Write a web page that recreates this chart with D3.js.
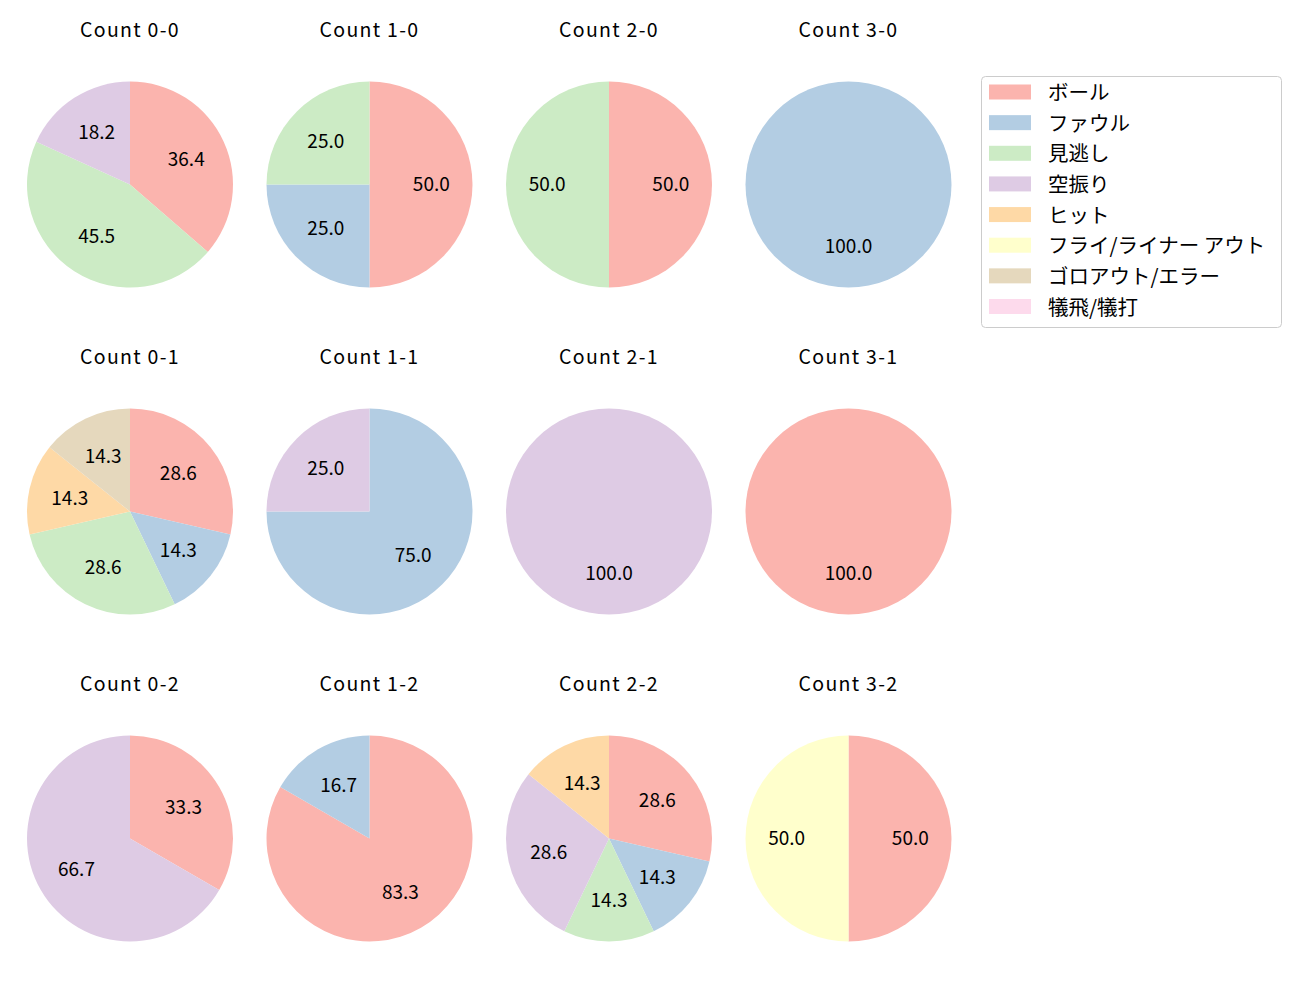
<!DOCTYPE html>
<html>
<head>
<meta charset="utf-8">
<script src="https://cdn.jsdelivr.net/npm/d3@7"></script>
<style>
  body { margin: 0; background: #fff; }
  svg { display: block; font-family: "Noto Sans CJK JP", "Noto Sans", sans-serif; }
</style>
</head>
<body>
<svg id="chart" width="1300" height="1000"></svg>
<script>
// Categories (legend order) and colours
const categories = ["ボール", "ファウル", "見逃し", "空振り", "ヒット", "フライ/ライナー アウト", "ゴロアウト/エラー", "犠飛/犠打"];
const colors = ["#fbb4ae", "#b3cde3", "#ccebc5", "#decbe4", "#fed9a6", "#ffffcc", "#e5d8bd", "#fddaec"];

// Panel titles (row-major: strikes rows, balls columns)
const counts = ["0-0", "1-0", "2-0", "3-0", "0-1", "1-1", "2-1", "3-1", "0-2", "1-2", "2-2", "3-2"];

// Values per count, in category order
const v00 = [4, 0, 5, 2, 0, 0, 0, 0];
const v10 = [2, 1, 1, 0, 0, 0, 0, 0];
const v20 = [1, 0, 1, 0, 0, 0, 0, 0];
const v30 = [0, 1, 0, 0, 0, 0, 0, 0];
const v01 = [2, 1, 2, 0, 1, 0, 1, 0];
const v11 = [0, 3, 0, 1, 0, 0, 0, 0];
const v21 = [0, 0, 0, 1, 0, 0, 0, 0];
const v31 = [1, 0, 0, 0, 0, 0, 0, 0];
const v02 = [1, 0, 0, 2, 0, 0, 0, 0];
const v12 = [5, 1, 0, 0, 0, 0, 0, 0];
const v22 = [2, 1, 1, 2, 1, 0, 0, 0];
const v32 = [1, 0, 0, 0, 0, 1, 0, 0];
const values = [v00, v10, v20, v30, v01, v11, v21, v31, v02, v12, v22, v32];

const svg = d3.select("#chart");

const colX = d3.scalePoint().domain([0, 1, 2, 3]).range([130, 848.5]);
const rowY = d3.scalePoint().domain([0, 1, 2]).range([184.5, 838.5]);
const R = 103;
const color = d3.scaleOrdinal().domain(categories).range(colors);

const pie = d3.pie().sort(null).value(d => d.v).startAngle(0).endAngle(2 * Math.PI);
const arc = d3.arc().innerRadius(0).outerRadius(R);
const labelArc = d3.arc().innerRadius(R * 0.6).outerRadius(R * 0.6);

counts.forEach((c, i) => {
  const col = i % 4, row = Math.floor(i / 4);
  const g = svg.append("g").attr("transform", `translate(${colX(col)},${rowY(row)})`);
  const data = categories.map((k, j) => ({ k, v: values[i][j] })).filter(d => d.v > 0);
  const total = d3.sum(data, d => d.v);
  const arcs = pie(data);
  g.selectAll("path").data(arcs).join("path")
    .attr("d", arc)
    .attr("fill", d => color(d.data.k));
  g.selectAll("text.lbl").data(arcs).join("text")
    .attr("class", "lbl")
    .attr("transform", d => `translate(${labelArc.centroid(d)})`)
    .attr("text-anchor", "middle")
    .attr("dy", "0.36em")
    .attr("font-size", 19)
    .attr("fill", "#000")
    .text(d => (d.data.v / total * 100).toFixed(1));
  g.append("text")
    .attr("x", 0).attr("y", -148)
    .attr("text-anchor", "middle")
    .attr("font-size", 19.5)
    .attr("letter-spacing", 1.3)
    .attr("fill", "#000")
    .text("Count " + c);
});

// Legend
const lg = svg.append("g").attr("transform", "translate(981,76)");
lg.append("rect").attr("x", 0.5).attr("y", 0.5).attr("width", 300).attr("height", 251)
  .attr("rx", 4).attr("fill", "#fff").attr("stroke", "#cccccc").attr("stroke-width", 1);
const ly = d3.scaleLinear().domain([0, 7]).range([16, 230.5]);
categories.forEach((k, j) => {
  lg.append("rect").attr("x", 8).attr("y", ly(j) - 7.5).attr("width", 42).attr("height", 15).attr("fill", colors[j]);
  lg.append("text").attr("x", 67).attr("y", ly(j)).attr("dy", "0.40em")
    .attr("font-size", 20.5).attr("fill", "#000").text(k);
});
</script>
</body>
</html>
